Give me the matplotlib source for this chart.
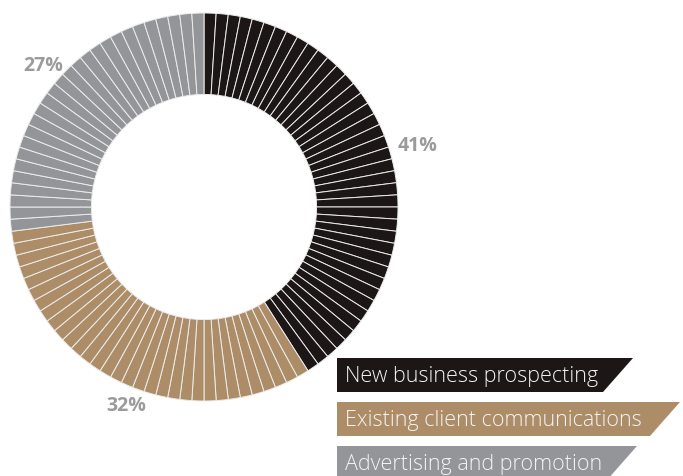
import matplotlib.pyplot as plt
from matplotlib.patches import Polygon

plt.rcParams["font.family"] = ["Open Sans", "DejaVu Sans"]

categories = ["New business prospecting", "Existing client communications", "Advertising and promotion"]
shares = [41, 32, 27]
colors = ["#1c1616", "#ad8d67", "#939598"]
pct_labels = ["41%", "32%", "27%"]

W, H = 683, 477
fig = plt.figure(figsize=(W / 100, H / 100), dpi=100)
ax = fig.add_axes([0, 0, 1, 1])

# one thin wedge per percentage point
slices = []
slice_colors = []
for share, col in zip(shares, colors):
    slices += [1] * share
    slice_colors += [col] * share

cx, cy, r = 204, H - 208, 194
ax.pie(slices, colors=slice_colors, startangle=90, counterclock=False,
       center=(cx, cy), radius=r, frame=True,
       wedgeprops=dict(width=r * 0.42, edgecolor="#ececec", linewidth=0.7))
ax.set_xlim(0, W)
ax.set_ylim(0, H)
ax.set_aspect("equal")
ax.axis("off")

label_pos = [(418, H - 146), (126, H - 406), (43, H - 66)]
for (x, y), t in zip(label_pos, pct_labels):
    ax.text(x, y, t, ha="center", va="center", fontsize=14,
            fontweight="bold", color="#9b9b9d")

# slanted legend tags
tag_tops = [359, 403, 447]
tag_right = [633, 680, 637]
slant = 30
for top, right, col, name in zip(tag_tops, tag_right, colors, categories):
    y0, y1 = H - top, H - top - 34
    poly = Polygon([(337, y0), (right, y0), (right - slant, y1), (337, y1)],
                   closed=True, facecolor=col, edgecolor="none")
    ax.add_patch(poly)
    ax.text(345, (y0 + y1) / 2 - 1, name, ha="left", va="center",
            fontsize=15.5, fontweight="light", color="#f4f4f4")

fig.savefig("out.png", dpi=100)
